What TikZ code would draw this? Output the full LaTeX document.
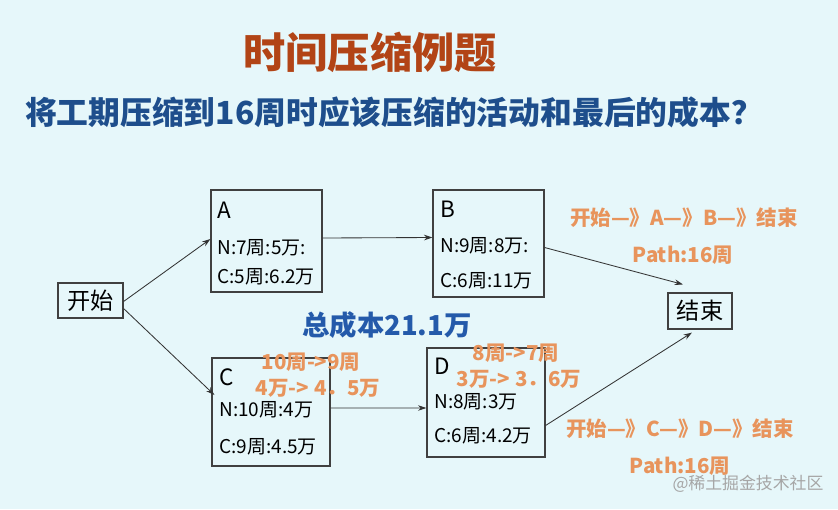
\documentclass[tikz,border=0pt]{standalone}
\usepackage{fontspec}
\setmainfont{Noto Sans CJK SC}
\definecolor{TitleRed}{RGB}{178,68,22}
\definecolor{AskBlue}{RGB}{30,78,140}
\definecolor{SumBlue}{RGB}{36,90,170}
\definecolor{NoteOrange}{RGB}{232,148,92}
\definecolor{SlideBg}{RGB}{230,247,250}
\usetikzlibrary{arrows.meta, positioning, calc}

\begin{document}
\begin{tikzpicture}[x=0.025cm, y=-0.025cm,
    actbox/.style={draw=black!75, thick, inner sep=0pt},
    boxtext/.style={anchor=west, font=\fontsize{13.5}{15}\selectfont, inner sep=0pt},
    boxhead/.style={anchor=west, font=\fontsize{16}{18}\selectfont, inner sep=0pt},
    note/.style={text=NoteOrange, font=\fontsize{14.6}{16}\selectfont\bfseries, inner sep=0pt},
    link/.style={-{Stealth[length=6pt, width=4pt]}, black!80, semithick}]

      % slide background
      \fill[SlideBg] (0,0) rectangle (838,509);
      \useasboundingbox (0,0) rectangle (838,509);

      % headings
      \node[text=TitleRed, font=\fontsize{30}{33}\selectfont\bfseries] (title) at (370,52) {时间压缩例题};
      \node[text=AskBlue, font=\fontsize{22.6}{25}\selectfont\bfseries] (ask) at (394,112)
            {将工期压缩到16周时应该压缩的活动和最后的成本？};

      % start and end
      \node[actbox, minimum width=1.625cm, minimum height=0.875cm,
            font=\fontsize{16.5}{18}\selectfont] (start) at (90.5,300.5) {开始};
      \node[actbox, minimum width=1.6cm, minimum height=0.9cm,
            font=\fontsize{16.5}{18}\selectfont] (finish) at (700,311) {结束};

      % activity boxes
      \node[actbox, minimum width=2.775cm, minimum height=2.55cm] (A) at (266.5,241) {};
      \node[boxhead] (Aname) at (217,210) {A};
      \node[boxtext] (An) at (217,248) {N:7周:5万:};
      \node[boxtext] (Ac) at (217,277) {C:5周:6.2万};

      \node[actbox, minimum width=2.775cm, minimum height=2.675cm] (B) at (488.5,243.5) {};
      \node[boxhead] (Bname) at (440,209) {B};
      \node[boxtext] (Bn) at (440,246) {N:9周:8万:};
      \node[boxtext] (Bc) at (440,281) {C:6周:11万};

      \node[actbox, minimum width=2.95cm, minimum height=2.7cm] (C) at (271,412) {};
      \node[boxhead] (Cname) at (219,377) {C};
      \node[boxtext] (Cn) at (219,410) {N:10周:4万};
      \node[boxtext] (Cc) at (219,447) {C:9周:4.5万};

      \node[actbox, minimum width=2.95cm, minimum height=2.725cm] (D) at (486,402.5) {};
      \node[boxhead] (Dname) at (434,366) {D};
      \node[boxtext] (Dn) at (434,402) {N:8周:3万};
      \node[boxtext] (Dc) at (434,436) {C:6周:4.2万};

      % connectors
      \coordinate (Bout) at ($(B.east)+(0,4)$);
      \coordinate (Dout) at ($(D.east)+(0,23)$);
      \coordinate (finTop) at ($(finish.north)+(-17,-8)$);
      \coordinate (finBot) at ($(finish.south)+(-8,3)$);
      \draw[link] ($(start.east)+(0,1)$) -- ($(A.west)+(0,-2)$);
      \draw[link] ($(start.east)+(0,8)$) -- ($(C.west)+(3,-17)$);
      \draw[link] ($(A.east)+(0,-3)$) -- ($(B.west)+(0,-6)$);
      \draw[link] ($(C.east)+(0,-4)$) -- ($(D.west)+(0,5.5)$);
      \draw[link] (Bout) -- (finTop);
      \draw[link] (Dout) -- (finBot);

      % total cost
      \node[text=SumBlue, font=\fontsize{19.5}{22}\selectfont\bfseries] (total) at (387,325) {总成本21.1万};

      % crash notes
      \node[note] (crashC1) at (311,362) {10周->9周};
      \node[note] (crashC2) at (318,388) {4万-> 4．5万};
      \node[note] (crashD1) at (516,353) {8周->7周};
      \node[note] (crashD2) at (519,379) {3万-> 3．6万};

      % path notes
      \node[note] (pathAB) at (684,218) {开始—》A—》B—》结束};
      \node[note] (lenAB) at (683,255) {Path:16周};
      \node[note] (pathCD) at (680,429) {开始—》C—》D—》结束};
      \node[note] (lenCD) at (680,466) {Path:16周};

      % watermark
      \node[text=black!35, font=\fontsize{12}{14}\selectfont] (mark) at (748,484) {@稀土掘金技术社区};

    \end{tikzpicture}
\end{document}
